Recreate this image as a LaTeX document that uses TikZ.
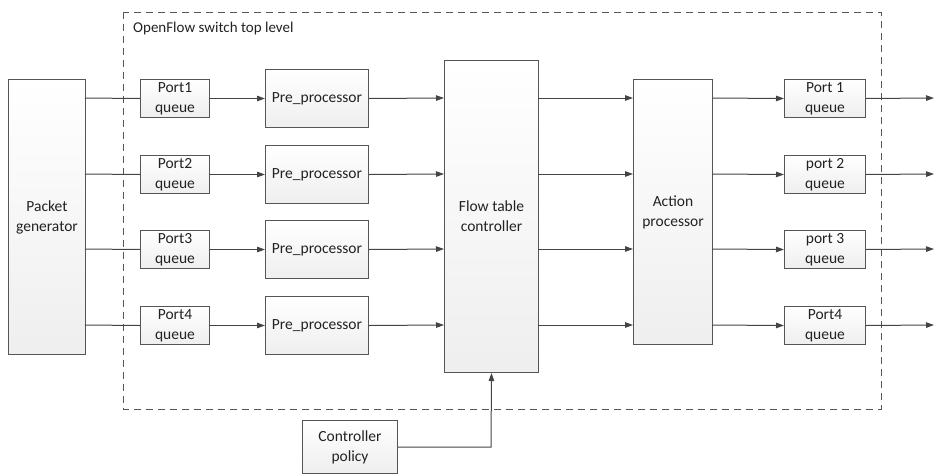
\documentclass[tikz,border=0pt]{standalone}
\usepackage{fontspec}
\setmainfont{Carlito}
\usetikzlibrary{arrows.meta}
\definecolor{edge}{HTML}{555555}
\definecolor{wire}{HTML}{444444}
\definecolor{ink}{HTML}{222222}
\tikzset{
  txt/.style={font=\fontsize{15.5}{20}\selectfont, text=ink},
  blk/.style={txt, draw=edge, line width=1pt, top color=white, bottom color=gray!13,
    align=center, inner sep=0pt, anchor=north west},
  wire/.style={draw=wire, line width=1pt},
  arr/.style={wire, -{Triangle[length=8pt,width=5.5pt]}},
}
\begin{document}
\begin{tikzpicture}[x=1pt,y=-1pt]
\useasboundingbox (0,0) rectangle (934,474);

% switch boundary
\draw[edge, line width=1pt, dash pattern=on 7pt off 5pt] (123,12) rectangle (881,409);
\node[txt, anchor=west, inner sep=0pt, font=\fontsize{15}{18}\selectfont] (title) at (133,28) {OpenFlow switch top level};

% main blocks
\node[blk, minimum width=77pt, minimum height=275pt] (gen) at (8,79) {Packet\\generator};
\node[blk, minimum width=94pt, minimum height=312pt] (ftc) at (444,60) {Flow table\\controller};
\node[blk, minimum width=79pt, minimum height=265pt] (act) at (633,79) {Action\\processor};
\node[blk, minimum width=95pt, minimum height=53pt] (pol) at (302,420) {Controller\\policy};

% four lanes
\foreach \i/\y/\rl in {1/98/Port 1, 2/174/port 2, 3/249/port 3, 4/325/Port4} {
  \node[blk, minimum width=69pt, minimum height=38pt] (inq\i) at (140,\y-19) {Port\i\\queue};
  \node[blk, minimum width=103pt, minimum height=58pt] (pre\i) at (265,\y-29) {Pre\_processor};
  \node[blk, minimum width=81pt, minimum height=38pt] (outq\i) at (784,\y-19) {\rl\\queue};
  \coordinate (gen\i) at (85,\y);
  \coordinate (ftin\i) at (444,\y);
  \coordinate (ftout\i) at (538,\y);
  \coordinate (actin\i) at (633,\y);
  \coordinate (actout\i) at (712,\y);
  \coordinate (exit\i) at (934,\y);
  \draw[wire] (gen\i) -- (inq\i.west);
  \draw[arr] (inq\i.east) -- (pre\i.west);
  \draw[arr] (pre\i.east) -- (ftin\i);
  \draw[arr] (ftout\i) -- (actin\i);
  \draw[arr] (actout\i) -- (outq\i.west);
  \draw[arr] (outq\i.east) -- (exit\i);
}

% policy feed into the flow table
\coordinate (polturn) at (491,447);
\draw[arr] (pol.east |- polturn) -- (polturn) -- (ftc.south);
\end{tikzpicture}
\end{document}
